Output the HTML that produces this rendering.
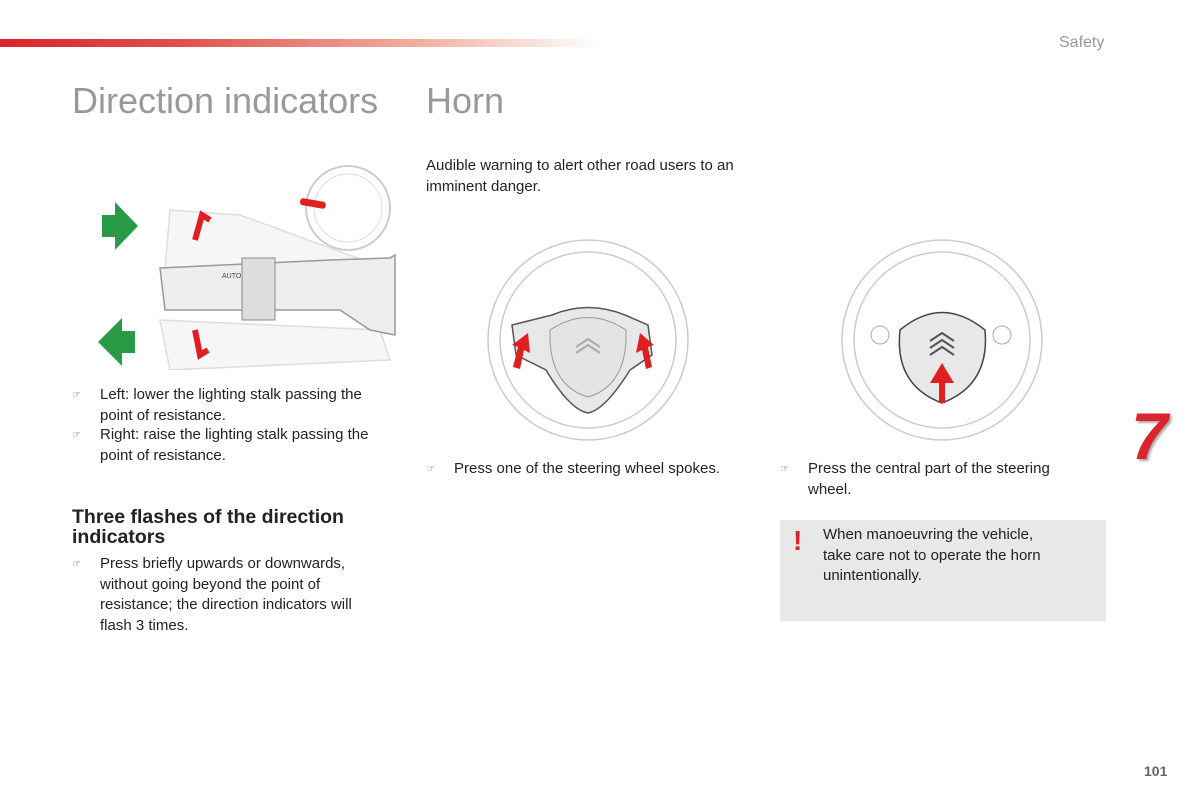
<!DOCTYPE html>
<html><head><meta charset="utf-8"><style>
body{margin:0;width:1200px;height:800px;background:#fff;position:relative;overflow:hidden;font-family:"Liberation Sans",sans-serif;color:#222}
.a{position:absolute}
.t{font-size:15px;line-height:20.5px}
.b{position:absolute;font-size:10px;color:#555}
h1{position:absolute;margin:0;font-weight:normal;font-size:36px;color:#999}
</style></head><body>
<div class="a" style="left:0;top:39px;width:600px;height:8px;background:linear-gradient(to right,#d9252b 0%,#e0504f 30%,#f0b0a0 70%,#fff 100%)"></div>
<div class="a" style="left:1059px;top:34px;font-size:16px;color:#999">Safety</div>
<h1 style="left:72px;top:80px">Direction indicators</h1>
<h1 style="left:426px;top:80px">Horn</h1>

<svg class="a" style="left:90px;top:160px" width="310" height="210">
<g fill="#2a9a45"><polygon points="12,55 25,55 25,42 48,66 25,90 25,77 12,77"/><polygon points="8,182 32,158 32,171 45,171 45,193 32,193 32,206"/></g>
<circle cx="258" cy="48" r="42" fill="none" stroke="#ccc" stroke-width="2"/><circle cx="258" cy="48" r="34" fill="none" stroke="#ddd"/>
<rect x="210" y="40" width="26" height="7" rx="3" fill="#e02020" transform="rotate(10 223 43)"/>
<g fill="#f6f6f6" stroke="#ddd" stroke-width="1.5"><path d="M80,50 L150,55 L300,110 L290,130 L75,110 Z"/><path d="M70,160 L290,170 L300,200 L80,210 Z"/></g>
<path d="M70,108 L240,100 L300,98 L305,95 L305,175 L280,170 L250,150 L75,150 Z" fill="#eee" stroke="#999" stroke-width="1.5"/>
<rect x="152" y="98" width="33" height="62" fill="#ddd" stroke="#888"/>
<path d="M105,80 L112,55 L120,60" stroke="#e02020" stroke-width="6" fill="none"/>
<path d="M105,170 L110,195 L118,190" stroke="#e02020" stroke-width="6" fill="none"/>
<text x="132" y="118" font-size="7" fill="#444">AUTO</text>
</svg>

<div class="b" style="left:72px;top:390px">☞</div><div class="a t" style="left:100px;top:385px">Left: lower the lighting stalk passing the<br>point of resistance.</div>
<div class="b" style="left:72px;top:430px">☞</div><div class="a t" style="left:100px;top:425px">Right: raise the lighting stalk passing the<br>point of resistance.</div>
<div class="a" style="left:72px;top:507px;font-size:19.5px;font-weight:bold;line-height:20px;color:#222">Three flashes of the direction<br>indicators</div>
<div class="b" style="left:72px;top:559px">☞</div><div class="a t" style="left:100px;top:554px">Press briefly upwards or downwards,<br>without going beyond the point of<br>resistance; the direction indicators will<br>flash 3 times.</div>

<div class="a t" style="left:426px;top:156px">Audible warning to alert other road users to an<br>imminent danger.</div>

<svg class="a" style="left:480px;top:235px" width="580" height="210">
<g fill="none" stroke="#ccc" stroke-width="1.5">
<circle cx="108" cy="105" r="100"/><circle cx="108" cy="105" r="88"/>
<circle cx="462" cy="105" r="100"/><circle cx="462" cy="105" r="88"/>
</g>
<path d="M32,90 L72,80 Q108,65 145,80 L168,90 L172,120 L150,135 Q125,175 108,178 Q90,175 66,135 L36,120 Z" fill="#e8e8e8" stroke="#555" stroke-width="1.5"/>
<path d="M70,95 Q108,70 146,95 Q148,150 108,162 Q68,150 70,95Z" fill="#e4e4e4" stroke="#999"/>
<g fill="none" stroke="#aaa" stroke-width="2"><path d="M96,112 L108,104 L120,112"/><path d="M96,118 L108,110 L120,118"/></g>
<path d="M420,95 Q462,60 505,95 Q510,150 462,168 Q414,150 420,95Z" fill="#e8e8e8" stroke="#444" stroke-width="1.5"/>
<g fill="none" stroke="#555" stroke-width="2"><path d="M450,106 L462,98 L474,106"/><path d="M450,113 L462,105 L474,113"/><path d="M450,120 L462,112 L474,120"/></g>
<circle cx="400" cy="100" r="9" fill="none" stroke="#aaa"/><circle cx="522" cy="100" r="9" fill="none" stroke="#aaa"/>
<g fill="#e02020">
<polygon points="33,132 38,112 32,110 48,98 50,118 44,115 40,134"/>
<polygon points="172,132 168,112 174,110 160,98 156,118 162,115 166,134"/>
<polygon points="459,168 459,148 450,148 462,128 474,148 465,148 465,168"/>
</g>
</svg>

<div class="b" style="left:426px;top:464px">☞</div><div class="a t" style="left:454px;top:459px">Press one of the steering wheel spokes.</div>
<div class="b" style="left:780px;top:464px">☞</div><div class="a t" style="left:808px;top:459px">Press the central part of the steering<br>wheel.</div>
<div class="a" style="left:780px;top:520px;width:326px;height:101px;background:#e8e8e8"></div>
<div class="a" style="left:793px;top:525px;font-size:28px;font-weight:bold;color:#d9252b">!</div>
<div class="a t" style="left:823px;top:525px">When manoeuvring the vehicle,<br>take care not to operate the horn<br>unintentionally.</div>
<div class="a" style="left:1131px;top:398px;font-size:66px;font-weight:bold;font-style:italic;color:#d9252b;text-shadow:2px 2px 2px #aaa">7</div>
<div class="a" style="left:1144px;top:763px;font-size:14px;font-weight:bold;color:#666">101</div>
</body></html>
